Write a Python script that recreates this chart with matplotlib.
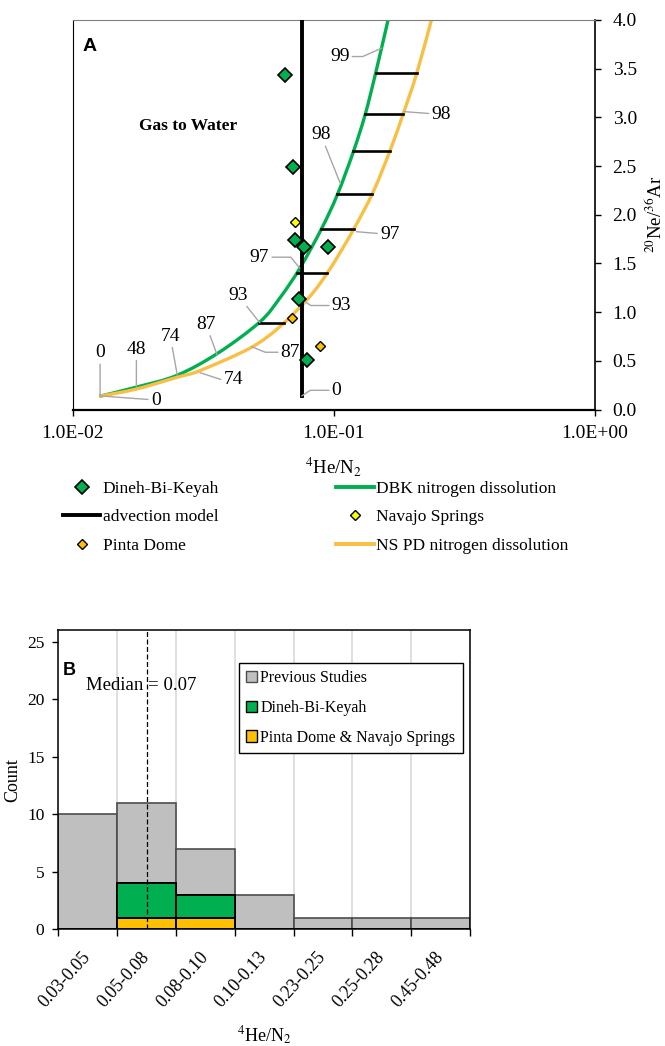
import numpy as np
import matplotlib.pyplot as plt
from matplotlib.lines import Line2D
from matplotlib.patches import Patch, PathPatch
from matplotlib.path import Path
from matplotlib.ticker import FixedLocator, FixedFormatter, NullLocator

plt.rcParams['font.family'] = ['Liberation Serif', 'DejaVu Serif']
plt.rcParams['mathtext.fontset'] = 'stix'

# ---------------- panel A : 4He/N2 vs 20Ne/36Ar ----------------
dbk_he_n2 = [0.0649, 0.0698, 0.0712, 0.0767, 0.0951, 0.0736, 0.0793]
dbk_ne_ar = [3.44, 2.49, 1.74, 1.67, 1.67, 1.13, 0.51]
ns_he_n2 = [0.0709]
ns_ne_ar = [1.93]
pd_he_n2 = [0.0692, 0.0889]
pd_ne_ar = [0.94, 0.65]

# advection model (constant He/N2)
adv_he_n2 = 0.0754
adv_ne_ar = [0.14, 4.0]

# nitrogen dissolution curves
dbk_curve_x = [0.0126, 0.0175, 0.0250, 0.0360, 0.0521, 0.0623, 0.0741,
               0.0895, 0.1030, 0.1190, 0.1320, 0.1449, 0.1615]
dbk_curve_y = [0.135, 0.23, 0.35, 0.58, 0.90, 1.15, 1.45,
               1.85, 2.20, 2.65, 3.03, 3.46, 4.00]
nspd_curve_x = [0.0126, 0.0175, 0.0250, 0.0307, 0.0477, 0.0621, 0.0809,
                0.0965, 0.1186, 0.1414, 0.1639, 0.1843, 0.2085, 0.2368]
nspd_curve_y = [0.135, 0.21, 0.33, 0.40, 0.63, 0.85, 1.16,
                1.44, 1.84, 2.23, 2.65, 3.03, 3.46, 4.00]

# 20Ne/36Ar levels joining the two dissolution curves
rung_levels = [0.89, 1.40, 1.85, 2.21, 2.65, 3.03, 3.46]

# percent N2 dissolved along the curves
dbk_tags = ['0', '48', '74', '87', '93', '97', '98', '99']
dbk_tag_x = [0.0127, 0.0175, 0.0251, 0.0357, 0.0521, 0.0741, 0.1060, 0.1523]
dbk_tag_y = [0.14, 0.235, 0.354, 0.56, 0.89, 1.45, 2.32, 3.71]
nspd_tags = ['0', '74', '87', '93', '97', '98']
nspd_tag_x = [0.0127, 0.0307, 0.0484, 0.0759, 0.1222, 0.1855]
nspd_tag_y = [0.14, 0.378, 0.645, 1.125, 1.826, 3.059]
adv_tags = ['0']
adv_tag_x = [0.0754]
adv_tag_y = [0.14]

# label offsets (points) and elbow angle of the leader
dbk_tag_off = [(0, 31), (0, 27), (-5, 28), (-8, 22), (-16, 20), (-29, 8), (-14, 35), (-30, -6)]
dbk_tag_elbow = [None, None, None, None, None, -51, None, 24]
nspd_tag_off = [(40, -3), (24, -5), (28, -4), (28, -4), (24, -2), (27, -2)]
nspd_tag_elbow = [None, -18, -22, -34, None, None]
adv_tag_off = [(25, 4)]
adv_tag_elbow = [33]

# ---------------- panel B : histogram ----------------
bins = ['0.03-0.05', '0.05-0.08', '0.08-0.10', '0.10-0.13',
        '0.23-0.25', '0.25-0.28', '0.45-0.48']
pdns_counts = [0, 1, 1, 0, 0, 0, 0]
dbk_counts = [0, 3, 2, 0, 0, 0, 0]
previous_counts = [10, 7, 4, 3, 1, 1, 1]
median_bin = '0.05-0.08'
median_text = 'Median = 0.07'

GREEN = '#00B050'
ORANGE_LINE = '#F9BF45'
ORANGE = '#FFC000'
YELLOW = '#FFFF00'
GREY = '#BFBFBF'
LEADER = '#A6A6A6'


def smooth_curve(xs, ys):
    # smoothed line through the points (Catmull-Rom as cubic Bezier, in log-x space)
    p = np.column_stack([np.log10(xs), ys])
    n = len(p)
    verts = [p[0]]
    codes = [Path.MOVETO]
    for i in range(n - 1):
        p0 = p[max(i - 1, 0)]
        p1, p2 = p[i], p[i + 1]
        p3 = p[min(i + 2, n - 1)]
        verts += [p1 + (p2 - p0) / 6, p2 - (p3 - p1) / 6, p2]
        codes += [Path.CURVE4] * 3
    verts = np.array(verts)
    verts[:, 0] = 10 ** verts[:, 0]
    return Path(verts, codes)


fig = plt.figure(figsize=(6.65, 10.46), dpi=100)

axA = fig.add_axes([0.1098, 0.6085, 0.7842, 0.3724])
axA.set_xscale('log')
axA.set_xlim(0.01, 1)
axA.set_ylim(0, 4)

axA.add_patch(PathPatch(smooth_curve(dbk_curve_x, dbk_curve_y), fill=False,
                        edgecolor=GREEN, lw=2.4, zorder=2, capstyle='butt'))
axA.add_patch(PathPatch(smooth_curve(nspd_curve_x, nspd_curve_y), fill=False,
                        edgecolor=ORANGE_LINE, lw=2.4, zorder=2, capstyle='butt'))

for lev in rung_levels:
    x0 = 10 ** np.interp(lev, dbk_curve_y, np.log10(dbk_curve_x))
    x1 = 10 ** np.interp(lev, nspd_curve_y, np.log10(nspd_curve_x))
    axA.plot([x0, x1], [lev, lev], color='black', lw=1.9, zorder=3)

axA.plot([adv_he_n2, adv_he_n2], adv_ne_ar, color='black', lw=2.8, zorder=4)

axA.plot(dbk_he_n2, dbk_ne_ar, ls='none', marker='D', ms=6.8, mfc=GREEN, mec='black', mew=1.2, zorder=6)
axA.plot(ns_he_n2, ns_ne_ar, ls='none', marker='D', ms=5.0, mfc=YELLOW, mec='black', mew=1.0, zorder=6)
axA.plot(pd_he_n2, pd_ne_ar, ls='none', marker='D', ms=5.0, mfc=ORANGE, mec='black', mew=1.0, zorder=6)


def tag_curve(ax, tags, xs, ys, offs, elbows):
    for t, x, y, (dx, dy), el in zip(tags, xs, ys, offs, elbows):
        if el is None:
            cs = 'arc3'
        else:
            cs = 'angle,angleA=0,angleB=%g,rad=0' % el
        ax.annotate(t, xy=(x, y), xytext=(dx, dy), textcoords='offset points',
                    ha='center', va='center', fontsize=14, zorder=5,
                    arrowprops=dict(arrowstyle='-', color=LEADER, lw=1.0,
                                    shrinkA=0, shrinkB=0, connectionstyle=cs))


tag_curve(axA, dbk_tags, dbk_tag_x, dbk_tag_y, dbk_tag_off, dbk_tag_elbow)
tag_curve(axA, nspd_tags, nspd_tag_x, nspd_tag_y, nspd_tag_off, nspd_tag_elbow)
tag_curve(axA, adv_tags, adv_tag_x, adv_tag_y, adv_tag_off, adv_tag_elbow)

axA.text(0.0186, 0.931, 'A', transform=axA.transAxes, family='Liberation Sans',
         fontweight='bold', fontsize=14, ha='left', va='center')
axA.text(0.221, 0.728, 'Gas to Water', transform=axA.transAxes,
         fontweight='bold', fontsize=12.5, ha='center', va='center')

axA.xaxis.set_major_locator(FixedLocator([0.01, 0.1, 1]))
axA.xaxis.set_major_formatter(FixedFormatter(['1.0E-02', '1.0E-01', '1.0E+00']))
axA.xaxis.set_minor_locator(NullLocator())
axA.yaxis.tick_right()
axA.yaxis.set_label_position('right')
axA.set_yticks(np.arange(0, 4.01, 0.5))
axA.set_yticklabels(['%.1f' % v for v in np.arange(0, 4.01, 0.5)])
axA.tick_params(axis='x', direction='out', length=4, width=1, labelsize=14, pad=7)
axA.tick_params(axis='y', direction='out', length=4, width=1, labelsize=14, pad=9)
axA.set_xlabel(r'$^{4}$He/N$_{2}$', fontsize=13.5)
axA.xaxis.set_label_coords(0.5, -0.117)
axA.set_ylabel(r'$^{20}$Ne/$^{36}$Ar', fontsize=13.5)
axA.yaxis.set_label_coords(1.095, 0.5)

axA.spines['top'].set_color('#7F7F7F')
axA.spines['top'].set_linewidth(0.8)
axA.spines['left'].set_linewidth(0.8)
axA.spines['right'].set_linewidth(1.2)
axA.spines['bottom'].set_linewidth(1.6)

legA_handles = [
    Line2D([], [], ls='none', marker='D', ms=6.8, mfc=GREEN, mec='black', mew=1.2),
    Line2D([], [], color='black', lw=2.8),
    Line2D([], [], ls='none', marker='D', ms=5.0, mfc=ORANGE, mec='black', mew=1.0),
    Line2D([], [], color=GREEN, lw=2.8),
    Line2D([], [], ls='none', marker='D', ms=5.0, mfc=YELLOW, mec='black', mew=1.0),
    Line2D([], [], color=ORANGE_LINE, lw=2.8),
]
legA_labels = ['Dineh-Bi-Keyah', 'advection model', 'Pinta Dome',
               'DBK nitrogen dissolution', 'Navajo Springs', 'NS PD nitrogen dissolution']
fig.legend(legA_handles, legA_labels, loc='upper left', bbox_to_anchor=(0.0947, 0.5405),
           ncol=2, frameon=False, fontsize=12.5, borderpad=0, borderaxespad=0,
           handlelength=2.15, handletextpad=0.15, columnspacing=6.75, labelspacing=0.72)

# ---------------- panel B ----------------
axB = fig.add_axes([0.0877, 0.1116, 0.6191, 0.2861])
idx = np.arange(len(bins))
pdns = np.array(pdns_counts)
dbk = np.array(dbk_counts)
prev = np.array(previous_counts)

axB.bar(idx, prev, width=1.0, bottom=pdns + dbk, color=GREY, edgecolor='#4D4D4D', lw=1.2, zorder=2)
axB.bar(idx, dbk, width=1.0, bottom=pdns, color=GREEN, edgecolor='black', lw=1.4, zorder=3)
axB.bar(idx, pdns, width=1.0, color=ORANGE, edgecolor='black', lw=1.4, zorder=4)

m = bins.index(median_bin)
axB.plot([m, m], [0, 26], color='black', lw=0.9, ls=(0, (4, 2)), zorder=5)
axB.text(0.2004, 0.816, median_text, transform=axB.transAxes, fontsize=13.5,
         ha='center', va='center', zorder=6)
axB.text(0.011, 0.866, 'B', transform=axB.transAxes, family='Liberation Sans',
         fontweight='bold', fontsize=13, ha='left', va='center')

axB.set_xlim(-0.5, len(bins) - 0.5)
axB.set_ylim(0, 26)
axB.set_xticks(np.arange(-0.5, len(bins)), [''] * (len(bins) + 1))
axB.set_xticks(idx, bins, minor=True)
for lab in axB.get_xticklabels(minor=True):
    lab.set_rotation(48)
    lab.set_ha('right')
    lab.set_va('center')
    lab.set_rotation_mode('anchor')
axB.tick_params(axis='x', which='major', direction='out', length=5, width=1)
axB.tick_params(axis='x', which='minor', length=0, labelsize=13, pad=18)
axB.set_yticks(np.arange(0, 26, 5))
axB.tick_params(axis='y', direction='out', length=4, width=1, labelsize=12.5, pad=6)
axB.grid(axis='x', which='major', color='#D9D9D9', lw=1.2)
axB.set_axisbelow(True)
for s in axB.spines.values():
    s.set_linewidth(1.1)

axB.set_ylabel('Count', fontsize=13)
axB.yaxis.set_label_coords(-0.089, 0.5)
axB.set_xlabel(r'$^{4}$He/N$_{2}$', fontsize=13)
axB.xaxis.set_label_coords(0.5, -0.32)

legB_handles = [Patch(facecolor=GREY, edgecolor='#4D4D4D', lw=1.0),
                Patch(facecolor=GREEN, edgecolor='black', lw=1.0),
                Patch(facecolor=ORANGE, edgecolor='black', lw=1.0)]
legB = axB.legend(legB_handles, ['Previous Studies', 'Dineh-Bi-Keyah', 'Pinta Dome & Navajo Springs'],
                  loc='upper right', bbox_to_anchor=(0.982, 0.889), fontsize=11.5,
                  fancybox=False, framealpha=1, edgecolor='black', borderpad=0.45,
                  handlelength=0.7, handleheight=0.7, handletextpad=0.2, labelspacing=0.85,
                  borderaxespad=0)
legB.get_frame().set_linewidth(1.0)

fig.savefig('out.png', dpi=100)
